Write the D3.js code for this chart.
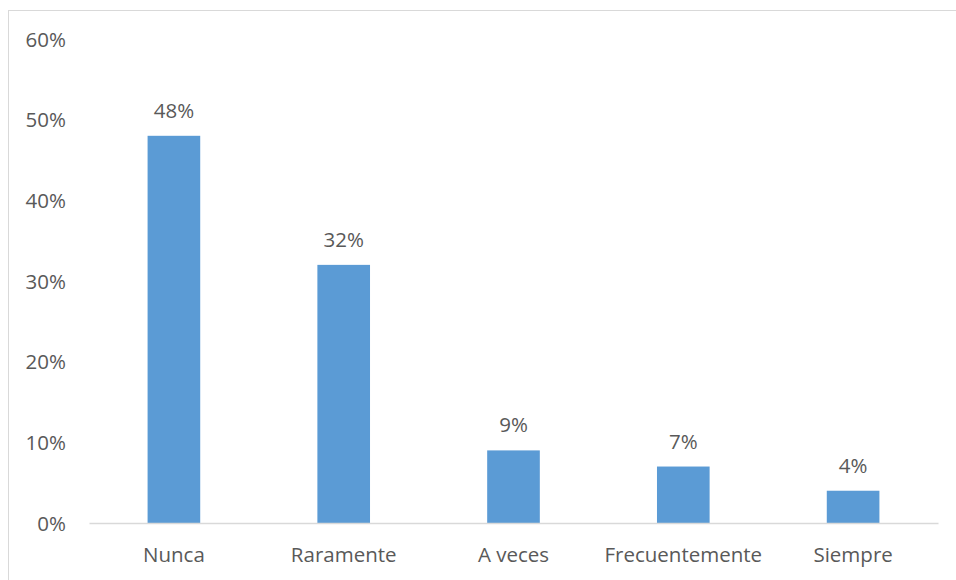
<!DOCTYPE html>
<html>
<head>
<meta charset="utf-8">
<script src="https://cdn.jsdelivr.net/npm/d3@7"></script>
<style>
  html, body { margin: 0; padding: 0; background: #fff; }
  svg { display: block; }
  text { font-family: "Open Sans", "Noto Sans", sans-serif; fill: #595959; }
</style>
</head>
<body>
<svg id="chart" width="956" height="580"></svg>
<script>
// Response frequency distribution
const categories = ["Nunca", "Raramente", "A veces", "Frecuentemente", "Siempre"];
const values = [0.48, 0.32, 0.09, 0.07, 0.04];
const yTicks = [0, 0.1, 0.2, 0.3, 0.4, 0.5, 0.6];

const svg = d3.select("#chart");
const W = 956, H = 580;
const fontSize = 20.5;

// chart frame
svg.append("rect")
  .attr("x", 8.5).attr("y", 10.5)
  .attr("width", W + 10).attr("height", H + 10)
  .attr("fill", "none").attr("stroke", "#d9d9d9").attr("stroke-width", 1);

const plot = { left: 89, right: 938, top: 39, bottom: 523 };

const x = d3.scaleBand()
  .domain(categories)
  .range([plot.left, plot.right])
  .paddingInner(0.69)
  .paddingOuter(0.345);

const y = d3.scaleLinear()
  .domain([0, 0.6])
  .range([plot.bottom, plot.top]);

const fmt = d3.format(".0%");

// y-axis tick labels (no axis line, no gridlines)
const yAxis = d3.axisLeft(y).tickValues(yTicks).tickFormat(fmt).tickSize(0).tickPadding(0);
const gy = svg.append("g").attr("transform", `translate(66,0)`).call(yAxis);
gy.select(".domain").remove();
gy.selectAll("text")
  .attr("font-size", fontSize)
  .attr("font-family", null)
  .attr("fill", null)
  .attr("dy", "0.35em");

// bars
svg.append("g").selectAll("rect")
  .data(values)
  .join("rect")
  .attr("x", (d, i) => x(categories[i]))
  .attr("y", d => y(d))
  .attr("width", x.bandwidth())
  .attr("height", d => y(0) - y(d))
  .attr("fill", "#5b9bd5");

// value labels
svg.append("g").selectAll("text")
  .data(values)
  .join("text")
  .attr("x", (d, i) => x(categories[i]) + x.bandwidth() / 2)
  .attr("y", d => y(d) - 18)
  .attr("text-anchor", "middle")
  .attr("font-size", fontSize)
  .text(d => fmt(d));

// x axis
const xAxis = d3.axisBottom(x).tickSize(0).tickPadding(0);
const gx = svg.append("g").attr("transform", `translate(0,${plot.bottom})`).call(xAxis);
gx.select(".domain").attr("stroke", "#d9d9d9").attr("stroke-width", 1.5);
gx.selectAll("text")
  .attr("font-size", fontSize)
  .attr("font-family", null)
  .attr("fill", null)
  .attr("y", 0)
  .attr("dy", 39);
</script>
</body>
</html>
